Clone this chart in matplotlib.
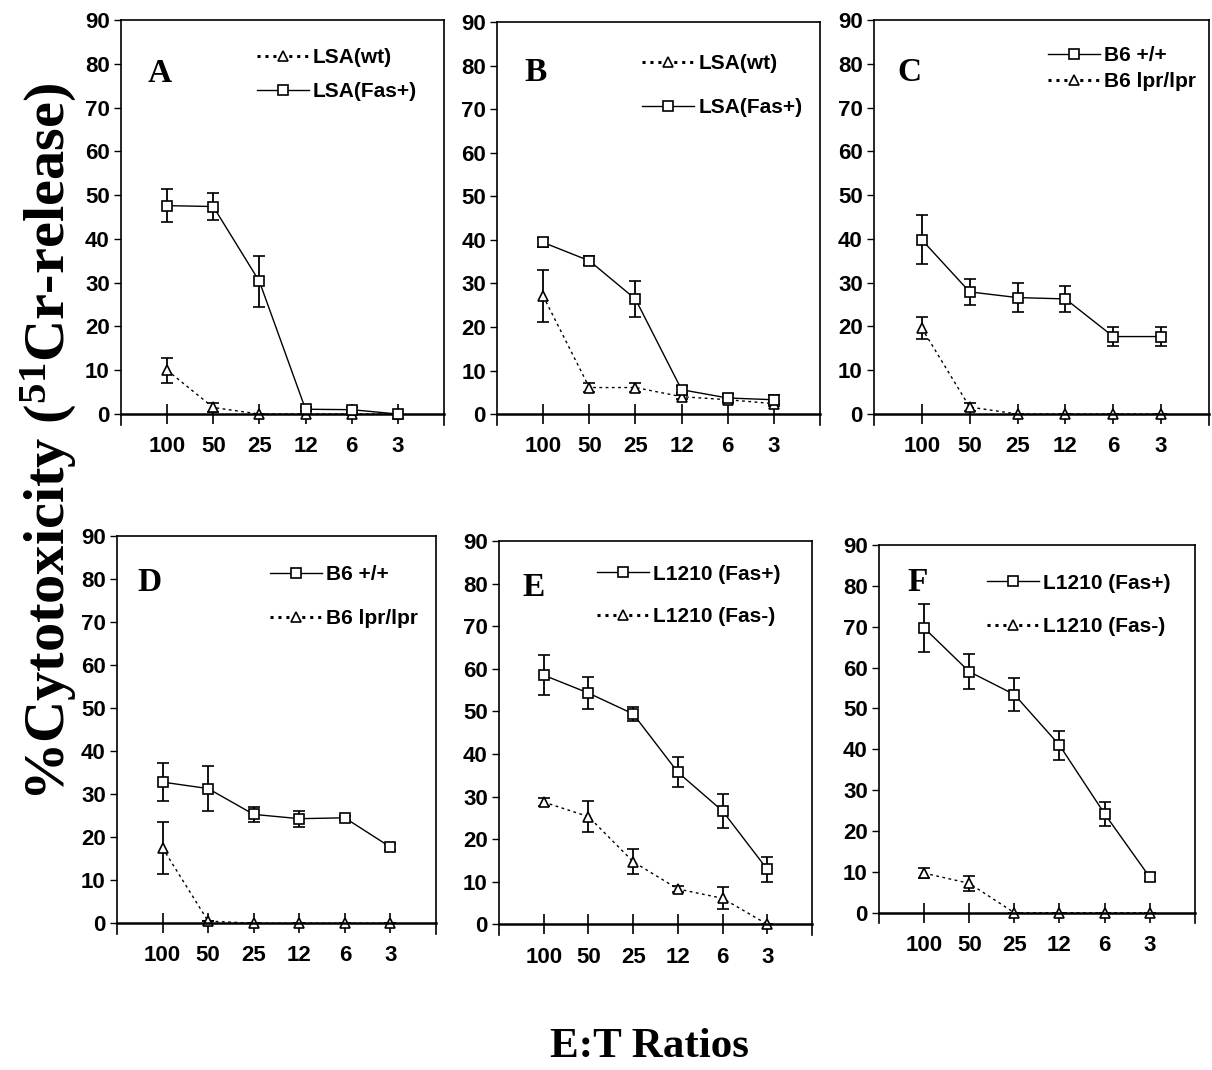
import numpy as np
import matplotlib.pyplot as plt
from matplotlib.lines import Line2D

plt.rcParams['font.family'] = ['Liberation Sans', 'DejaVu Sans']
plt.rcParams['mathtext.fontset'] = 'custom'
plt.rcParams['mathtext.rm'] = 'Liberation Serif:bold'
plt.rcParams['mathtext.default'] = 'rm'

ratios = ["100", "50", "25", "12", "6", "3"]

# panel A / B: LSA targets
a_wt = [10.0, 1.5, 0, 0, 0, 0]
a_wt_err = [2.9, 1.0, 0, 0, 0, 0]
a_fas = [47.6, 47.4, 30.3, 1.1, 1.0, 0]
a_fas_err = [3.8, 3.0, 5.9, 0.5, 0.5, 0]

b_wt = [27.1, 6.1, 6.1, 4.0, 3.3, 2.4]
b_wt_err = [6.0, 1.0, 1.0, 0.5, 0.5, 0.5]
b_fas = [39.4, 35.2, 26.4, 5.6, 3.7, 3.3]
b_fas_err = [1.0, 1.0, 4.2, 0.8, 1.0, 1.0]

# panel C / D: B6 effectors
c_wt = [39.8, 27.9, 26.6, 26.3, 17.7, 17.7]
c_wt_err = [5.6, 3.0, 3.3, 2.9, 2.2, 2.2]
c_lpr = [19.6, 1.6, 0, 0, 0, 0]
c_lpr_err = [2.5, 1.0, 0, 0, 0, 0]

d_wt = [32.8, 31.3, 25.3, 24.3, 24.5, 17.7]
d_wt_err = [4.4, 5.2, 1.7, 1.9, 0.5, 0.7]
d_lpr = [17.5, 0.5, 0, 0, 0, 0]
d_lpr_err = [6.0, 0, 0, 0, 0, 0]

# panel E / F: L1210 targets
e_pos = [58.5, 54.3, 49.4, 35.7, 26.6, 12.9]
e_pos_err = [4.7, 3.8, 1.6, 3.5, 4.0, 3.0]
e_neg = [28.7, 25.3, 14.7, 8.3, 6.1, 0]
e_neg_err = [1.0, 3.6, 2.9, 0.8, 2.6, 0]

f_pos = [69.7, 59.0, 53.4, 41.0, 24.2, 8.7]
f_pos_err = [5.9, 4.2, 4.0, 3.5, 3.0, 1.0]
f_neg = [9.7, 7.2, 0, 0, 0, 0]
f_neg_err = [1.2, 1.8, 0, 0, 0, 0]

SOLID = dict(ls='-', marker='s', ms=7.5)
DOTTED = dict(ls=(0, (2, 2.5)), marker='^', ms=6.5)

# letter, axes rect, series [(y, err, label, style)], legend (x, y, spacing), letter pos
panels = [
    ("A", [0.0998, 0.6028, 0.2665, 0.3785],
     [(a_wt, a_wt_err, "LSA(wt)", DOTTED), (a_fas, a_fas_err, "LSA(Fas+)", SOLID)],
     (0.42, 0.93, 0.7), (0.12, 0.867)),
    ("B", [0.4101, 0.6028, 0.2665, 0.3766],
     [(b_wt, b_wt_err, "LSA(wt)", DOTTED), (b_fas, b_fas_err, "LSA(Fas+)", SOLID)],
     (0.45, 0.92, 1.19), (0.118, 0.876)),
    ("C", [0.7211, 0.6028, 0.2764, 0.3785],
     [(c_wt, c_wt_err, "B6 +/+", SOLID), (c_lpr, c_lpr_err, "B6 lpr/lpr", DOTTED)],
     (0.52, 0.935, 0.34), (0.107, 0.87)),
    ("D", [0.0965, 0.1271, 0.2632, 0.3720],
     [(d_wt, d_wt_err, "B6 +/+", SOLID), (d_lpr, d_lpr_err, "B6 lpr/lpr", DOTTED)],
     (0.48, 0.927, 1.19), (0.103, 0.884)),
    ("E", [0.4117, 0.1262, 0.2583, 0.3682],
     [(e_pos, e_pos_err, "L1210 (Fas+)", SOLID), (e_neg, e_neg_err, "L1210 (Fas-)", DOTTED)],
     (0.313, 0.94, 1.14), (0.109, 0.883)),
    ("F", [0.7252, 0.1374, 0.2607, 0.3533],
     [(f_pos, f_pos_err, "L1210 (Fas+)", SOLID), (f_neg, f_neg_err, "L1210 (Fas-)", DOTTED)],
     (0.342, 0.924, 1.19), (0.123, 0.90)),
]

fig = plt.figure(figsize=(12.12, 10.70), dpi=100)
x = np.arange(1, len(ratios) + 1)

for letter, rect, series, (lx, ly, lsp), (tx, ty) in panels:
    ax = fig.add_axes(rect)
    handles = []
    for y, err, label, st in series:
        z = 3 if st['marker'] == 's' else 2
        ax.errorbar(x, y, yerr=err, color='black', lw=1.0, ls=st['ls'],
                    marker=st['marker'], ms=st['ms'], mfc='white', mec='black',
                    mew=1.2, ecolor='black', elinewidth=1.3, capsize=4,
                    capthick=1.3, zorder=z, clip_on=False)
        if st['marker'] == 's':
            h = Line2D([], [], color='black', lw=1.0, ls='-', marker='s',
                       ms=st['ms'], mfc='white', mec='black', mew=1.2)
        else:
            h = Line2D([], [], color='black', lw=2.2, ls=(0, (1, 1.6)),
                       marker='^', ms=st['ms'], mfc='white', mec='black', mew=1.2)
        handles.append((h, label))
    ax.legend([h for h, _ in handles], [l for _, l in handles],
              loc='upper left', bbox_to_anchor=(lx, ly), frameon=False,
              borderpad=0, borderaxespad=0, handlelength=2.5,
              handletextpad=0.2, labelspacing=lsp,
              prop=dict(family='Liberation Sans', weight='bold', size=15))

    ax.set_xlim(0, 7)
    ax.set_ylim(-2.5, 90)
    ax.set_yticks(np.arange(0, 91, 10))
    ax.set_xticks(x)
    ax.set_xticklabels(ratios)
    ax.spines['bottom'].set_position(('data', 0))
    for s in ax.spines.values():
        s.set_linewidth(1.2)
    ax.spines['bottom'].set_linewidth(1.8)
    ax.tick_params(axis='x', direction='inout', length=14, width=1.2, pad=9,
                   labelsize=16)
    ax.tick_params(axis='y', direction='out', length=5, width=1.0, pad=3,
                   labelsize=16)
    for lab in ax.get_xticklabels() + ax.get_yticklabels():
        lab.set_fontweight('bold')
    ax.text(tx, ty, letter, transform=ax.transAxes, ha='center', va='center',
            family='Liberation Serif', fontweight='bold', fontsize=24)

fig.text(0.04, 0.587, r"%Cytotoxicity ($^{51}$Cr-release)", rotation=90,
         ha='center', va='center', family='Liberation Serif',
         fontweight='bold', fontsize=42)
fig.text(0.536, 0.0215, "E:T Ratios", ha='center', va='center',
         family='Liberation Serif', fontweight='bold', fontsize=31)

fig.savefig("out.png", dpi=100)
